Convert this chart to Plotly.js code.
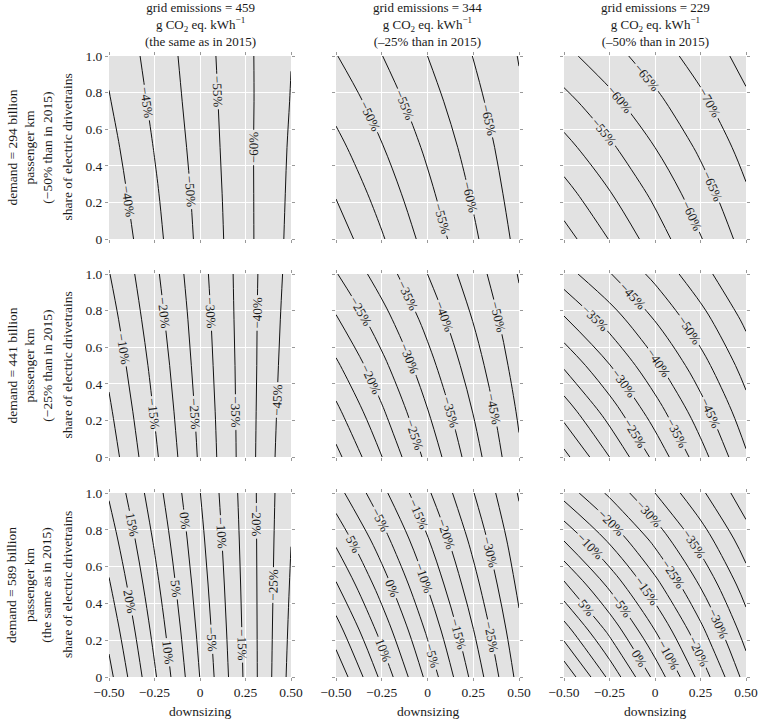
<!DOCTYPE html>
<html>
<head>
<meta charset="utf-8">
<script src="https://cdn.plot.ly/plotly-3.0.1.min.js"></script>
<style>html,body{margin:0;padding:0;background:#fff;}#chart{width:760px;height:721px;}</style>
</head>
<body>
<div id="chart"></div>
<script>
// downsizing (x) and share of electric drivetrains (y) grid
const downsizing = [-0.5, -0.25, 0, 0.25, 0.5];
const electricShare = [0, 0.25, 0.5, 0.75, 1];

// change in emissions vs 2015 (%), rows = share of electric drivetrains, cols = downsizing
// row 1: demand 294 bn pkm
const zDemand294Grid459 = [
  [-35.9, -43.5, -51.1, -58.6, -66.2],
  [-37.2, -44.3, -51.5, -58.7, -65.9],
  [-38.4, -45.2, -52.0, -58.8, -65.6],
  [-39.7, -46.1, -52.5, -58.8, -65.2],
  [-40.9, -46.9, -52.9, -58.9, -64.9]
];
const zDemand294Grid344 = [
  [-37.2, -44.5, -51.8, -59.1, -66.4],
  [-40.4, -47.1, -53.9, -60.6, -67.4],
  [-43.5, -49.7, -55.9, -62.1, -68.3],
  [-46.7, -52.3, -58.0, -63.6, -69.3],
  [-49.8, -54.9, -60.0, -65.1, -70.2]
];
const zDemand294Grid229 = [
  [-37.9, -45.2, -52.5, -59.7, -67.0],
  [-43.1, -49.7, -56.2, -62.8, -69.4],
  [-48.3, -54.1, -60.0, -65.9, -71.8],
  [-53.4, -58.6, -63.8, -69.0, -74.2],
  [-58.6, -63.1, -67.6, -72.1, -76.6]
];
// row 2: demand 441 bn pkm
const zDemand441Grid459 = [
  [-2.3, -14.0, -25.7, -37.4, -49.1],
  [-4.2, -15.3, -26.3, -37.4, -48.5],
  [-6.1, -16.5, -27.0, -37.4, -47.9],
  [-7.9, -17.8, -27.6, -37.5, -47.3],
  [-9.8, -19.0, -28.3, -37.5, -46.7]
];
const zDemand441Grid344 = [
  [-3.5, -14.9, -26.4, -37.8, -49.2],
  [-8.8, -19.3, -29.8, -40.2, -50.7],
  [-14.1, -23.6, -33.2, -42.7, -52.3],
  [-19.4, -28.0, -36.6, -45.2, -53.8],
  [-24.7, -32.4, -40.0, -47.7, -55.3]
];
const zDemand441Grid229 = [
  [-3.5, -15.0, -26.4, -37.9, -49.3],
  [-12.1, -22.4, -32.7, -42.9, -53.2],
  [-20.7, -29.8, -38.9, -48.0, -57.1],
  [-29.3, -37.2, -45.2, -53.1, -61.0],
  [-37.9, -44.7, -51.4, -58.2, -64.9]
];
// row 3: demand 589 bn pkm
const zDemand589Grid459 = [
  [31.5, 15.7, -0.1, -15.9, -31.7],
  [28.5, 13.6, -1.3, -16.2, -31.1],
  [25.5, 11.5, -2.5, -16.5, -30.5],
  [22.5, 9.4, -3.7, -16.8, -29.9],
  [19.5, 7.3, -4.9, -17.1, -29.3]
];
const zDemand589Grid344 = [
  [29.0, 13.8, -1.4, -16.5, -31.7],
  [22.3, 8.2, -5.8, -19.8, -33.9],
  [15.5, 2.6, -10.3, -23.2, -36.1],
  [8.8, -3.0, -14.7, -26.5, -38.2],
  [2.0, -8.6, -19.2, -29.8, -40.4]
];
const zDemand589Grid229 = [
  [29.0, 13.8, -1.5, -16.8, -32.0],
  [17.5, 3.8, -9.9, -23.6, -37.3],
  [6.0, -6.1, -18.3, -30.4, -42.5],
  [-5.5, -16.1, -26.6, -37.2, -47.8],
  [-17.0, -26.0, -35.0, -44.0, -53.0]
];

const colTitles = [
  'grid emissions = 459<br>g CO<sub>2</sub> eq. kWh<sup>\u22121</sup><br>(the same as in 2015)',
  'grid emissions = 344<br>g CO<sub>2</sub> eq. kWh<sup>\u22121</sup><br>(\u201325% than in 2015)',
  'grid emissions = 229<br>g CO<sub>2</sub> eq. kWh<sup>\u22121</sup><br>(\u201350% than in 2015)'
];
const rowTitles = [
  'demand = 294 billion<br>passenger km<br>(\u221250% than in 2015)',
  'demand = 441 billion<br>passenger km<br>(\u221225% than in 2015)',
  'demand = 589 billion<br>passenger km<br>(the same as in 2015)'
];
const xTitle = 'downsizing';
const yTitle = 'share of electric drivetrains';
const xTickVals = [-0.5, -0.25, 0, 0.25, 0.5];
const xTickText = ['\u22120.50', '\u22120.25', '0', '0.25', '0.50'];
const yTickVals = [0, 0.2, 0.4, 0.6, 0.8, 1.0];
const yTickText = ['0', '0.2', '0.4', '0.6', '0.8', '1.0'];

const panels = [
  [zDemand294Grid459, zDemand294Grid344, zDemand294Grid229],
  [zDemand441Grid459, zDemand441Grid344, zDemand441Grid229],
  [zDemand589Grid459, zDemand589Grid344, zDemand589Grid229]
];

const W = 760, H = 721;
const colPx = [[109, 291], [336, 519], [564, 746]];
const rowPx = [[56, 239], [274, 457], [493, 677]];
const FONT = '"Liberation Serif", "Times New Roman", Times, serif';
const TXT = '#1a1a1a';

const data = [];
const layout = {
  width: W, height: H,
  margin: {l: 0, r: 0, t: 0, b: 0},
  paper_bgcolor: '#fff',
  plot_bgcolor: '#e2e2e2',
  showlegend: false,
  font: {family: FONT, size: 13, color: TXT},
  annotations: []
};

for (let r = 0; r < 3; r++) {
  for (let c = 0; c < 3; c++) {
    const k = r * 3 + c + 1;
    const sx = k === 1 ? '' : String(k);
    data.push({
      type: 'contour',
      x: downsizing, y: electricShare,
      z: panels[r][c].map(row => row.map(v => v / 100)),
      xaxis: 'x' + sx, yaxis: 'y' + sx,
      showscale: false,
      hoverinfo: 'skip',
      autocontour: false,
      contours: {
        coloring: 'none', start: -0.8, end: 0.5, size: 0.05,
        showlabels: true, labelformat: '.0%',
        labelfont: {family: FONT, size: 13, color: '#1a1a1a'}
      },
      line: {color: '#111', width: 1, smoothing: 1}
    });
    const common = {
      ticks: 'outside', ticklen: 3, tickwidth: 1, tickcolor: '#999', mirror: 'ticks',
      showgrid: true, gridcolor: '#ffffff', gridwidth: 1, zeroline: false, showline: false,
      tickfont: {family: FONT, size: 13.5, color: TXT}
    };
    layout['xaxis' + sx] = Object.assign({}, common, {
      domain: [colPx[c][0] / W, colPx[c][1] / W],
      range: [-0.5, 0.5], anchor: 'y' + sx,
      tickmode: 'array', tickvals: xTickVals, ticktext: xTickText,
      showticklabels: r === 2
    });
    layout['yaxis' + sx] = Object.assign({}, common, {
      domain: [1 - rowPx[r][1] / H, 1 - rowPx[r][0] / H],
      range: [0, 1], anchor: 'x' + sx,
      tickmode: 'array', tickvals: yTickVals, ticktext: yTickText,
      showticklabels: c === 0
    });
  }
}

for (let c = 0; c < 3; c++) {
  const cx = (colPx[c][0] + colPx[c][1]) / 2 / W;
  layout.annotations.push({
    xref: 'paper', yref: 'paper', x: cx, y: 1 - 25 / H,
    xanchor: 'center', yanchor: 'middle', showarrow: false,
    text: colTitles[c], font: {family: FONT, size: 13, color: TXT}
  });
  layout.annotations.push({
    xref: 'paper', yref: 'paper', x: cx, y: 1 - 711 / H,
    xanchor: 'center', yanchor: 'middle', showarrow: false,
    text: xTitle, font: {family: FONT, size: 13.5, color: TXT}
  });
}
for (let r = 0; r < 3; r++) {
  const cy = 1 - (rowPx[r][0] + rowPx[r][1]) / 2 / H;
  layout.annotations.push({
    xref: 'paper', yref: 'paper', x: 29 / W, y: cy,
    xanchor: 'center', yanchor: 'middle', showarrow: false, textangle: -90,
    text: rowTitles[r], font: {family: FONT, size: 13.5, color: TXT}
  });
  layout.annotations.push({
    xref: 'paper', yref: 'paper', x: 67 / W, y: cy,
    xanchor: 'center', yanchor: 'middle', showarrow: false, textangle: -90,
    text: yTitle, font: {family: FONT, size: 13.5, color: TXT}
  });
}

Plotly.newPlot('chart', data, layout, {staticPlot: true, displayModeBar: false});
</script>
</body>
</html>
